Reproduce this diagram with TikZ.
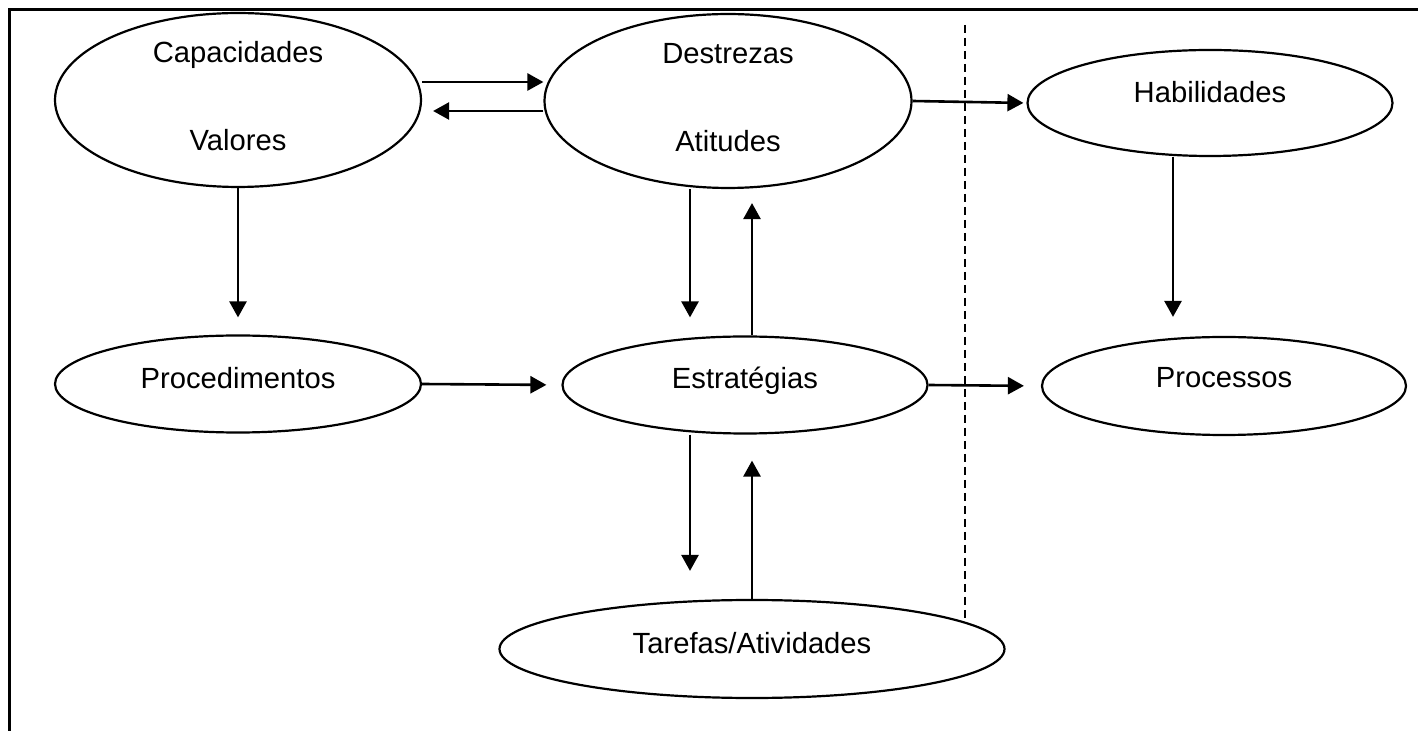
\documentclass[tikz,border=0pt]{standalone}
\usepackage{fontspec}
\setmainfont{Liberation Sans}
\usetikzlibrary{shapes.geometric,arrows.meta}
\tikzset{
  ell/.style={ellipse, draw, line width=1.1pt, inner sep=0pt,
    font=\fontsize{14.6}{17.5}\selectfont},
  raise/.style={text height=11pt, text depth=#1},
  arr/.style={line width=1.3pt, -{Triangle[length=8pt,width=8.5pt]}},
  frame/.style={line width=1.5pt},
  sep/.style={line width=1pt, dash pattern=on 4pt off 2.5pt}
}
\begin{document}
\begin{tikzpicture}[x=0.5pt,y=-0.5pt]
\useasboundingbox (0,0) rectangle (1418,731);
% frame (top and left sides only)
\draw[frame] (1418,10) -- (9,10) -- (9,731);
% dashed separator
\draw[sep] (965,25) -- (965,618);

% nodes
\node[ell, minimum width=183pt, minimum height=80pt] (cap) at (238,100)
  {\begin{tabular}{@{}c@{}}Capacidades\\[26.5pt]Valores\end{tabular}};
\node[ell, minimum width=183.5pt, minimum height=80pt] (dest) at (728,101)
  {\begin{tabular}{@{}c@{}}Destrezas\\[26.5pt]Atitudes\end{tabular}};
\node[ell, raise=11.5pt, minimum width=182.5pt, minimum height=53pt] (hab) at (1210,103) {Habilidades};
\node[ell, raise=6.5pt, minimum width=183pt, minimum height=48.5pt] (proc) at (238,384) {Procedimentos};
\node[ell, raise=7.5pt, minimum width=182.5pt, minimum height=48.5pt] (estr) at (745,385) {Estratégias};
\node[ell, raise=9.5pt, minimum width=182pt, minimum height=49pt] (procs) at (1224,386) {Processos};
\node[ell, raise=6.5pt, minimum width=252.5pt, minimum height=49pt] (tar) at (752,649) {Tarefas/Atividades};

% helper coordinates
\coordinate (ya) at (0,82);
\coordinate (yb) at (0,111);
\coordinate (xa) at (690,0);
\coordinate (xb) at (752,0);
\coordinate (xc) at (1173,0);

% connectors
\draw[arr] (cap.east |- ya) -- (dest.west |- ya);
\draw[arr, shorten >=5.5pt] (dest.west |- yb) -- (cap.east |- yb);
\draw[arr, shorten >=1.5pt] (dest.east) -- (hab.west);
\draw[arr, shorten >=8.5pt] (cap.south) -- (proc.north);
\draw[arr, shorten >=9pt] (dest.south -| xa) -- (estr.north -| xa);
\draw[arr, shorten >=7pt] (estr.north -| xb) -- (dest.south -| xb);
\draw[arr, shorten >=9.5pt] (hab.south -| xc) -- (procs.north -| xc);
\draw[arr, shorten >=7.5pt] (proc.east) -- (estr.west);
\draw[arr, shorten >=8.5pt] (estr.east) -- (procs.west);
\draw[arr, shorten >=14pt] (estr.south -| xa) -- (tar.north -| xa);
\draw[arr, shorten >=13pt] (tar.north -| xb) -- (estr.south -| xb);
\end{tikzpicture}
\end{document}
